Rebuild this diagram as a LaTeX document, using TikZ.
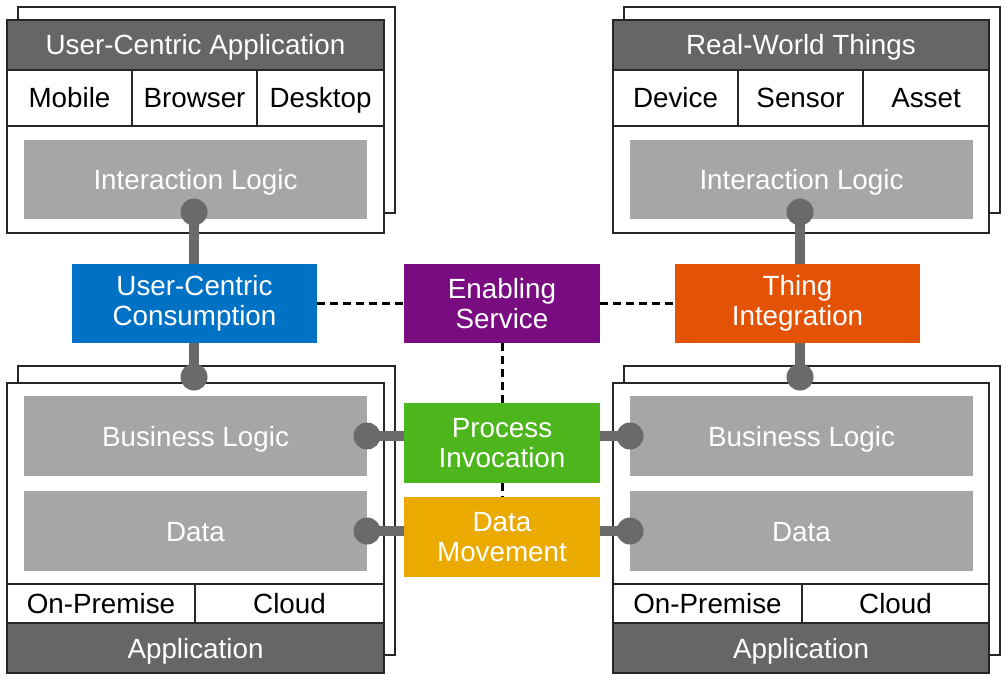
\documentclass[tikz,border=0pt]{standalone}
\usepackage{fontspec}
\setmainfont{Liberation Sans}
\definecolor{hdr}{RGB}{102,102,102}
\definecolor{lgray}{RGB}{166,166,166}
\definecolor{dotc}{RGB}{106,106,106}
\definecolor{cblue}{RGB}{0,114,198}
\definecolor{cpurple}{RGB}{122,12,130}
\definecolor{corange}{RGB}{227,82,5}
\definecolor{cgreen}{RGB}{77,182,29}
\definecolor{cgold}{RGB}{234,170,0}
\newcommand{\fsz}{\fontsize{27.8}{30.5}\selectfont}
\begin{document}
\begin{tikzpicture}[x=1pt,y=-1pt,
  every node/.style={inner sep=0pt,outer sep=0pt,font=\fsz},
  oneline/.style={text height=20pt,text depth=0pt},
  backbox/.style={draw=black!85,fill=white,line width=1.2pt},
  frame/.style={draw=black!85,fill=white,line width=1.2pt},
  header/.style={oneline,fill=hdr,draw=black!85,line width=1.2pt,text=white,minimum height=50pt},
  cell/.style={oneline,draw=black!85,line width=1.2pt,fill=white,text=black},
  logic/.style={oneline,fill=lgray,text=white,minimum width=343pt},
  svc/.style={text=white,align=center,minimum height=79pt},
  conn/.style={line width=10pt,draw=dotc},
  dotn/.style={circle,fill=dotc,minimum size=27pt},
  dline/.style={line width=3pt,dash pattern=on 8pt off 5pt,draw=black}]
\useasboundingbox (0,0) rectangle (1008,684);
\fill[white] (0,0) rectangle (1008,684);

% ---------- top-left: User-Centric Application
\draw[backbox] (18,7) rectangle (395,213);
\node[frame,minimum width=377pt,minimum height=213pt] (ucaf) at (195.5,126.5) {};
\node[header,minimum width=377pt] (ucah) at (195.5,45) {User-Centric Application};
\node[cell,minimum width=125pt,minimum height=56pt] (mob) at (69.5,98) {Mobile};
\node[cell,minimum width=125pt,minimum height=56pt] (brw) at (194.5,98) {Browser};
\node[cell,minimum width=127pt,minimum height=56pt] (dsk) at (320.5,98) {Desktop};
\node[logic,minimum height=79pt] (il1) at (195.5,180) {Interaction Logic};

% ---------- top-right: Real-World Things
\draw[backbox] (624,7) rectangle (1000,213);
\node[frame,minimum width=376pt,minimum height=213pt] (rwtf) at (801,126.5) {};
\node[header,minimum width=376pt] (rwth) at (801,45) {Real-World Things};
\node[cell,minimum width=125pt,minimum height=56pt] (dev) at (675.5,98) {Device};
\node[cell,minimum width=125pt,minimum height=56pt] (sen) at (800.5,98) {Sensor};
\node[cell,minimum width=126pt,minimum height=56pt] (ass) at (926,98) {Asset};
\node[logic,minimum height=79pt] (il2) at (801.5,180) {Interaction Logic};

% ---------- bottom-left: Application
\draw[backbox] (18,366) rectangle (395,655);
\node[frame,minimum width=377pt,minimum height=290pt] (apf1) at (195.5,528) {};
\node[logic,minimum height=80pt] (bl1) at (195.5,436) {Business Logic};
\node[logic,minimum height=80pt] (da1) at (195.5,531) {Data};
\node[cell,minimum width=188pt,minimum height=39pt] (op1) at (101,603.5) {On-Premise};
\node[cell,minimum width=189pt,minimum height=39pt] (cl1) at (289.5,603.5) {Cloud};
\node[header,minimum width=377pt] (ap1) at (195.5,648) {Application};

% ---------- bottom-right: Application
\draw[backbox] (624,366) rectangle (1000,655);
\node[frame,minimum width=376pt,minimum height=290pt] (apf2) at (801,528) {};
\node[logic,minimum height=80pt] (bl2) at (801.5,436) {Business Logic};
\node[logic,minimum height=80pt] (da2) at (801.5,531) {Data};
\node[cell,minimum width=189pt,minimum height=39pt] (op2) at (707.5,603.5) {On-Premise};
\node[cell,minimum width=187pt,minimum height=39pt] (cl2) at (895.5,603.5) {Cloud};
\node[header,minimum width=376pt] (ap2) at (801,648) {Application};

% ---------- service boxes
\node[svc,fill=cblue,minimum width=245pt] (ucc) at (194.5,303.5) {User-Centric\\Consumption};
\node[svc,fill=cpurple,minimum width=196pt] (es) at (502,303.5) {Enabling\\Service};
\node[svc,fill=corange,minimum width=245pt] (ti) at (797.5,303.5) {Thing\\Integration};
\node[svc,fill=cgreen,minimum width=196pt,minimum height=80pt] (pi) at (502,443) {Process\\Invocation};
\node[svc,fill=cgold,minimum width=196pt,minimum height=80pt] (dm) at (502,537) {Data\\Movement};

% ---------- dashed links
\draw[dline] (ucc.east) -- (es.west);
\draw[dline] (es.east) -- (ti.west);
\draw[dline] (es.south) -- (pi.north);
\draw[dline] (pi.south) -- (dm.north);

% ---------- solid connectors with dots
\coordinate (pTL) at (194,212);
\coordinate (pBL) at (194,377);
\coordinate (pTR) at (800,212);
\coordinate (pBR) at (800,377);
\coordinate (pL1) at (367,436);
\coordinate (pL2) at (367,531);
\coordinate (pR1) at (630,436);
\coordinate (pR2) at (630,531);
\draw[conn] (pTL) -- (pTL |- ucc.north);
\draw[conn] (pBL |- ucc.south) -- (pBL);
\draw[conn] (pTR) -- (pTR |- ti.north);
\draw[conn] (pBR |- ti.south) -- (pBR);
\draw[conn] (pL1) -- (pi.west |- pL1);
\draw[conn] (pi.east |- pR1) -- (pR1);
\draw[conn] (pL2) -- (dm.west |- pL2);
\draw[conn] (dm.east |- pR2) -- (pR2);
\node[dotn] (dTL) at (pTL) {};
\node[dotn] (dBL) at (pBL) {};
\node[dotn] (dTR) at (pTR) {};
\node[dotn] (dBR) at (pBR) {};
\node[dotn] (dL1) at (pL1) {};
\node[dotn] (dL2) at (pL2) {};
\node[dotn] (dR1) at (pR1) {};
\node[dotn] (dR2) at (pR2) {};
\end{tikzpicture}
\end{document}
